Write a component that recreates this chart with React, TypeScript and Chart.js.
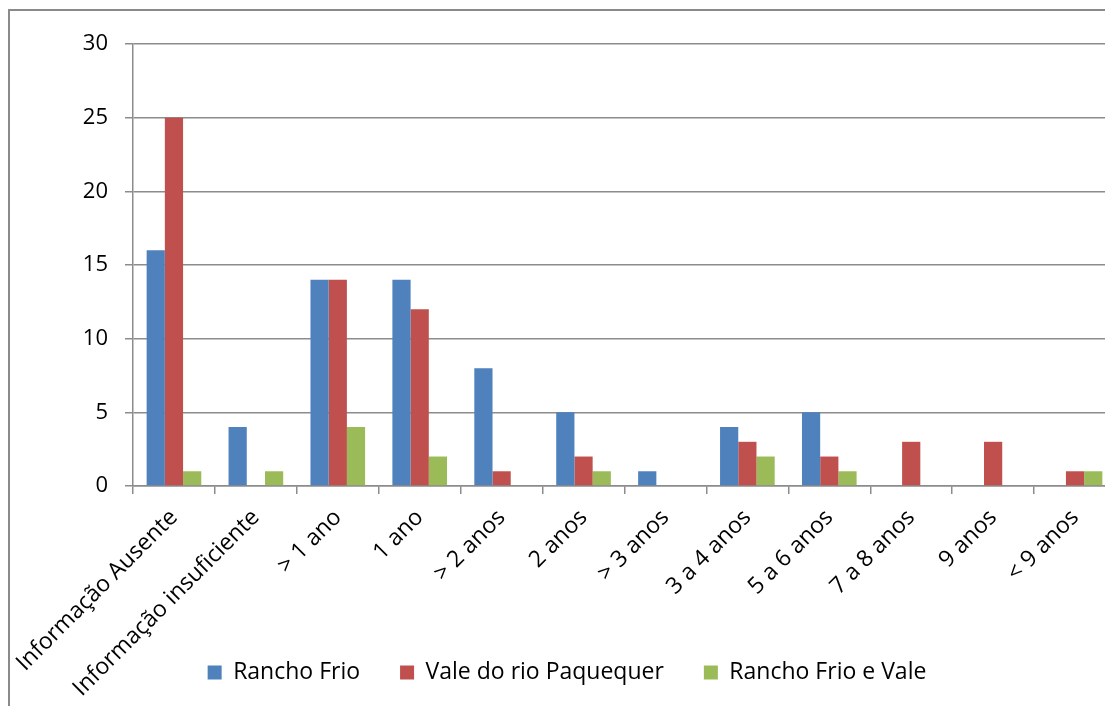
import React, { useEffect, useRef } from "react";
import { Chart, registerables } from "chart.js";

Chart.register(...registerables);

const categories = [
  "Informação Ausente",
  "Informação insuficiente",
  "> 1 ano",
  "1 ano",
  "> 2 anos",
  "2 anos",
  "> 3 anos",
  "3 a 4 anos",
  "5 a 6 anos",
  "7 a 8 anos",
  "9 anos",
  "< 9 anos",
];
const ranchoFrio = [16, 4, 14, 14, 8, 5, 1, 4, 5, 0, 0, 0];
const valePaquequer = [25, 0, 14, 12, 1, 2, 0, 3, 2, 3, 3, 1];
const ranchoFrioVale = [1, 1, 4, 2, 0, 1, 0, 2, 1, 0, 0, 1];
const seriesNames = ["Rancho Frio", "Vale do rio Paquequer", "Rancho Frio e Vale"];
const yMin = 0;
const yMax = 30;
const yStep = 5;

const FAMILY = "'Open Sans', sans-serif";
const Y_FONT = { family: FAMILY, size: 22 };
const X_FONT = { family: FAMILY, size: 23 };
const LEGEND_FONT = { family: FAMILY, size: 23 };
const GRID = "#8c8c8c";

const expandLabelClip = {
  id: "expandLabelClip",
  afterLayout(chart: any) {
    const x = chart.scales.x;
    if (x) {
      x.bottom = chart.height;
    }
  },
};

export default function App() {
  const ref = useRef<HTMLCanvasElement>(null);
  useEffect(() => {
    if (!ref.current) return;
    const chart = new Chart(ref.current, {
      type: "bar",
      data: {
        labels: categories,
        datasets: [
          { label: seriesNames[0], data: ranchoFrio, backgroundColor: "#4F81BD" },
          { label: seriesNames[1], data: valePaquequer, backgroundColor: "#C0504D" },
          { label: seriesNames[2], data: ranchoFrioVale, backgroundColor: "#9BBB59" },
        ],
      },
      plugins: [expandLabelClip],
      options: {
        animation: false,
        responsive: false,
        devicePixelRatio: 1,
        layout: { padding: { top: 44, right: 14, left: 18, bottom: 12 } },
        datasets: { bar: { categoryPercentage: 0.667, barPercentage: 1 } },
        scales: {
          x: {
            grid: {
              offset: true,
              drawOnChartArea: false,
              drawTicks: true,
              tickLength: 8,
              color: GRID,
              lineWidth: 1.5,
            },
            border: { color: GRID, width: 1.5 },
            ticks: {
              minRotation: 45,
              maxRotation: 45,
              autoSkip: false,
              font: X_FONT,
              color: "#000",
              padding: 10,
            },
            afterFit: (s: any) => {
              s.height = 135;
            },
          },
          y: {
            min: yMin,
            max: yMax,
            ticks: { stepSize: yStep, padding: 17, font: Y_FONT, color: "#000" },
            grid: { color: GRID, tickLength: 8, lineWidth: 1.5 },
            border: { color: GRID, width: 1.5 },
            afterFit: (s: any) => {
              s.width = 115;
            },
          },
        },
        plugins: {
          legend: {
            position: "bottom",
            labels: { boxWidth: 14, boxHeight: 14, font: LEGEND_FONT, color: "#000", padding: 40 },
          },
          tooltip: { enabled: false },
        },
      },
    });
    return () => chart.destroy();
  }, []);

  return (
    <div
      style={{
        position: "fixed",
        left: 0,
        top: 0,
        width: 1105,
        height: 706,
        overflow: "hidden",
        background: "#fff",
      }}
    >
      <div
        style={{
          position: "absolute",
          left: 8,
          top: 9,
          width: 1200,
          height: 800,
          borderLeft: "2px solid #8a8a8a",
          borderTop: "2px solid #8a8a8a",
        }}
      />
      <canvas
        ref={ref}
        width={1130}
        height={706}
        style={{ position: "absolute", left: 0, top: 0, width: 1130, height: 706 }}
      />
    </div>
  );
}
